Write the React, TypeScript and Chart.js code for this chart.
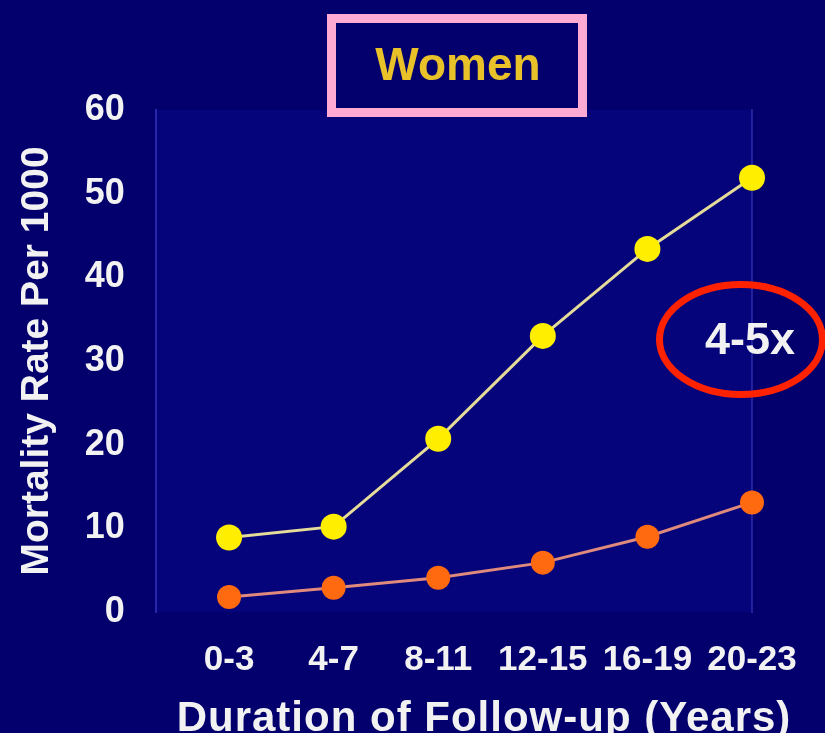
import React, { useEffect, useRef } from "react";
import { Chart, registerables } from "chart.js";

Chart.register(...registerables);

const categories = ["0-3", "4-7", "8-11", "12-15", "16-19", "20-23"];
const highSeries = [8.9, 10.2, 20.7, 33.0, 43.4, 51.9];
const lowSeries = [1.8, 2.9, 4.1, 5.9, 9.0, 13.1];
const yTicks = [0, 10, 20, 30, 40, 50, 60];

const FONT = "'Liberation Sans', Arial, Helvetica, sans-serif";
const BG = "#03006d";
const PLOT_BG = "#05047a";

const decorations = {
  id: "decorations",
  beforeDraw(chart: any) {
    const { ctx, chartArea } = chart;
    ctx.save();
    ctx.fillStyle = BG;
    ctx.fillRect(0, 0, chart.width, chart.height);
    ctx.fillStyle = PLOT_BG;
    ctx.fillRect(chartArea.left, chartArea.top, chartArea.right - chartArea.left, chartArea.bottom - chartArea.top);
    ctx.restore();
  },
  afterDraw(chart: any) {
    const { ctx } = chart;
    ctx.save();

    // Title in its pink frame
    ctx.strokeStyle = "#ffaad2";
    ctx.lineWidth = 9;
    ctx.strokeRect(331.5, 18.5, 251, 94);
    ctx.fillStyle = "#e9c22a";
    ctx.font = `bold 46px ${FONT}`;
    ctx.textAlign = "center";
    ctx.textBaseline = "middle";
    ctx.fillText("Women", 458, 67);

    // Ratio callout
    ctx.strokeStyle = "#ff2200";
    ctx.lineWidth = 7;
    ctx.beginPath();
    ctx.ellipse(741, 339.5, 81.5, 55, 0, 0, Math.PI * 2);
    ctx.stroke();
    ctx.fillStyle = "#f2f2f2";
    ctx.font = `bold 45px ${FONT}`;
    ctx.fillText("4-5x", 750, 342);

    // Horizontal axis title
    ctx.fillStyle = "#f2f2f2";
    ctx.font = `bold 42px ${FONT}`;
    ctx.textBaseline = "alphabetic";
    (ctx as any).letterSpacing = "1px";
    ctx.fillText("Duration of Follow-up (Years)", 484, 731);
    ctx.restore();
  },
};

export default function App() {
  const canvasRef = useRef<HTMLCanvasElement | null>(null);

  useEffect(() => {
    const canvas = canvasRef.current;
    if (!canvas) return;
    const chart = new Chart(canvas, {
      type: "line",
      data: {
        datasets: [
          {
            label: "High",
            data: highSeries.map((v, i) => ({ x: i, y: v })),
            borderColor: "#e6dc9a",
            borderWidth: 3,
            pointBackgroundColor: "#ffee00",
            pointBorderColor: "#ffee00",
            pointBorderWidth: 0,
            pointRadius: 13,
            tension: 0,
            clip: false,
          },
          {
            label: "Low",
            data: lowSeries.map((v, i) => ({ x: i, y: v })),
            borderColor: "#df8a7c",
            borderWidth: 3,
            pointBackgroundColor: "#ff6a10",
            pointBorderColor: "#ff6a10",
            pointBorderWidth: 0,
            pointRadius: 12,
            tension: 0,
            clip: false,
          },
        ],
      },
      options: {
        animation: false,
        responsive: false,
        events: [],
        layout: { padding: { left: 14, right: 65, top: 110, bottom: 33 } },
        plugins: {
          legend: { display: false },
          tooltip: { enabled: false },
          title: { display: false },
        },
        scales: {
          x: {
            type: "linear",
            min: -0.7,
            max: categories.length - 1,
            afterBuildTicks: (scale: any) => {
              scale.ticks = categories.map((_, i) => ({ value: i }));
            },
            ticks: {
              callback: (v: any) => categories[Number(v)] ?? "",
              color: "#f2f2f2",
              font: { family: FONT, size: 35, weight: "bold" },
              padding: 19,
              maxRotation: 0,
              autoSkip: false,
            },
            grid: { display: false },
            border: { display: false },
          },
          y: {
            min: 0,
            max: 60,
            afterBuildTicks: (scale: any) => {
              scale.ticks = yTicks.map((v) => ({ value: v }));
            },
            ticks: {
              color: "#f2f2f2",
              font: { family: FONT, size: 36, weight: "bold" },
              padding: 23,
            },
            grid: { display: false },
            border: { display: true, color: "rgba(70,70,210,0.55)", width: 2 },
            title: {
              display: true,
              text: "Mortality Rate Per 1000",
              color: "#f2f2f2",
              font: { family: FONT, size: 39, weight: "bold" },
              padding: { top: 0, bottom: 1 },
            },
          },
          yRight: {
            position: "right",
            min: 0,
            max: 60,
            ticks: { display: false },
            grid: { display: false },
            border: { display: true, color: "rgba(70,70,210,0.45)", width: 2 },
          },
        },
      },
      plugins: [decorations],
    } as any);
    return () => chart.destroy();
  }, []);

  return (
    <div style={{ position: "fixed", left: 0, top: 0, width: 825, height: 733, background: BG }}>
      <canvas ref={canvasRef} width={825} height={733} />
    </div>
  );
}
